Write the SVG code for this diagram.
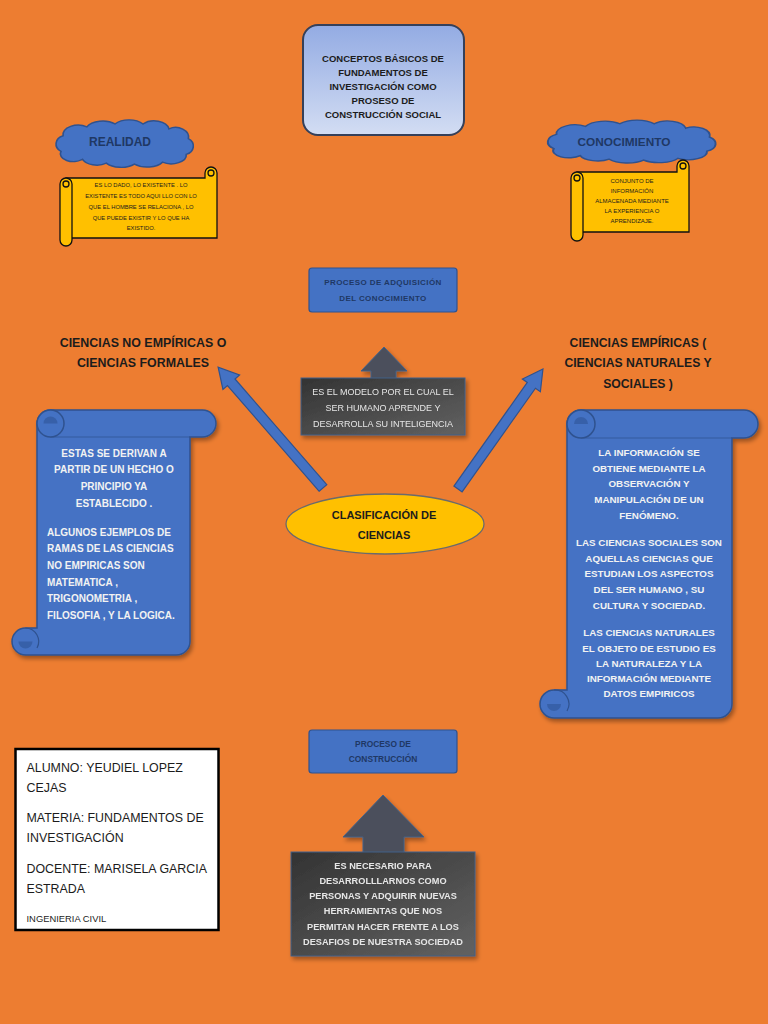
<svg xmlns="http://www.w3.org/2000/svg" width="768" height="1024" viewBox="0 0 768 1024">
<defs>
<linearGradient id="gTop" x1="0" y1="0" x2="0" y2="1">
<stop offset="0" stop-color="#93ABE3"/><stop offset="1" stop-color="#D3DDF3"/>
</linearGradient>
<linearGradient id="gDark" x1="0" y1="0" x2="1" y2="1">
<stop offset="0" stop-color="#333333"/><stop offset="1" stop-color="#626262"/>
</linearGradient>
<filter id="sh" x="-10%" y="-10%" width="125%" height="125%">
<feDropShadow dx="2" dy="3" stdDeviation="2" flood-color="#000" flood-opacity="0.35"/>
</filter>
<path id="cloud" d="M12,30 a10,9 0 0 1 2,-16 a14,10 0 0 1 22,-9 a16,10 0 0 1 26,-3 a16,10 0 0 1 26,0 a14,10 0 0 1 24,5 a12,10 0 0 1 18,10 a10,9 0 0 1 -2,16 a14,9 0 0 1 -22,8 a16,9 0 0 1 -26,2 a16,9 0 0 1 -26,-1 a14,9 0 0 1 -22,-4 a12,8 0 0 1 -20,-8 Z"/>
</defs>
<style>
text{font-family:"Liberation Sans",Arial,sans-serif;}
.b{font-weight:bold;}
.cloud{fill:#4472C4;stroke:#2F528F;stroke-width:1.5;}
.yel{fill:#FFC000;stroke:#111;stroke-width:1.3;}
.blu{fill:#4472C4;stroke:#2F528F;stroke-width:1.5;}
.seam{fill:none;stroke:#2F528F;stroke-width:1.2;}
.blud{fill:#2F5597;stroke:none;}
.proc{fill:#4472C4;stroke:#2F528F;stroke-width:1.2;}
.dark{fill:url(#gDark);stroke:#41618A;stroke-width:1;}
.head{fill:#4B505B;stroke:#41618A;stroke-width:1;}
.arr{fill:#4472C4;stroke:#2F528F;stroke-width:1.2;}
.navy{fill:#1F3864;}
.blk{fill:#1C1C1C;}
.wt{fill:#F2F2F2;}
.lt{fill:#E6E6E6;}
</style>
<rect width="768" height="1024" fill="#ED7D31"/>

<g id="title">
<rect x="303" y="25" width="161" height="110" rx="15" fill="url(#gTop)" stroke="#35405A" stroke-width="2"/>
<g class="b blk" font-size="9.5" text-anchor="middle">
<text x="383" y="61.5">CONCEPTOS BÁSICOS DE</text>
<text x="383" y="75.5">FUNDAMENTOS DE</text>
<text x="383" y="89.5">INVESTIGACIÓN COMO</text>
<text x="383" y="103.5">PROSESO DE</text>
<text x="383" y="117.5">CONSTRUCCIÓN SOCIAL</text>
</g>
</g>

<g id="realidad">
<use href="#cloud" class="cloud" vector-effect="non-scaling-stroke" transform="translate(48,122) scale(1.08,0.98)"/>
<text x="120" y="145.5" class="b navy" font-size="12" text-anchor="middle">REALIDAD</text>
</g>

<g id="realidad-def">
<path class="yel" d="M66,178 H205 V173 A6,6 0 0 1 217,173 V238 H66 Z"/>
<circle class="yel" cx="211" cy="173" r="3"/>
<path class="yel" d="M60,184 A6,6 0 0 1 72,184 V240 A6,6 0 0 1 60,240 Z"/>
<circle class="yel" cx="66" cy="184" r="3"/>
<g class="blk" font-size="5.8" text-anchor="middle">
<text x="141" y="187">ES LO DADO, LO EXISTENTE . LO</text>
<text x="141" y="198">EXISTENTE ES TODO AQUI LLO CON LO</text>
<text x="141" y="209">QUE EL HOMBRE SE RELACIONA , LO</text>
<text x="141" y="220">QUE PUEDE EXISTIR Y LO QUE HA</text>
<text x="141" y="230">EXISTIDO.</text>
</g>
</g>

<g id="conocimiento">
<use href="#cloud" class="cloud" vector-effect="non-scaling-stroke" transform="translate(538,122) scale(1.32,0.886)"/>
<text x="624" y="145.5" class="b navy" font-size="11.8" text-anchor="middle">CONOCIMIENTO</text>
</g>

<g id="conocimiento-def">
<path class="yel" d="M577,172 H677 V166 A6,6 0 0 1 689,166 V232 H577 Z"/>
<circle class="yel" cx="683" cy="166" r="3"/>
<path class="yel" d="M571,178 A6,6 0 0 1 583,178 V235 A6,6 0 0 1 571,235 Z"/>
<circle class="yel" cx="577" cy="178" r="3"/>
<g class="blk" font-size="6" text-anchor="middle">
<text x="632" y="183">CONJUNTO DE</text>
<text x="632" y="193">INFORMACIÓN</text>
<text x="632" y="203">ALMACENADA MEDIANTE</text>
<text x="632" y="213">LA EXPERIENCIA O</text>
<text x="632" y="223">APRENDIZAJE.</text>
</g>
</g>

<g id="proceso-adquisicion">
<rect class="proc" x="309" y="268" width="148" height="44" rx="3"/>
<g class="b navy" font-size="8" letter-spacing="0.4" text-anchor="middle">
<text x="383" y="284.5">PROCESO DE ADQUISICIÓN</text>
<text x="383" y="301">DEL CONOCIMIENTO</text>
</g>
</g>

<g id="modelo" filter="url(#sh)">
<polygon class="head" points="384,347 407,371 396,371 396,379 371,379 371,371 361,371"/>
<rect class="dark" x="301" y="378" width="164" height="57"/>
<g class="lt" font-size="9" text-anchor="middle">
<text x="383" y="395">ES EL MODELO POR EL CUAL EL</text>
<text x="383" y="411">SER HUMANO APRENDE Y</text>
<text x="383" y="427">DESARROLLA SU INTELIGENCIA</text>
</g>
</g>

<g id="no-empiricas">
<g class="b blk" font-size="12.4" text-anchor="middle">
<text x="143" y="347">CIENCIAS NO EMPÍRICAS O</text>
<text x="143" y="367">CIENCIAS FORMALES</text>
</g>
</g>

<g id="empiricas">
<g class="b blk" font-size="12.2" text-anchor="middle">
<text x="638" y="347">CIENCIAS EMPÍRICAS (</text>
<text x="638" y="367">CIENCIAS NATURALES Y</text>
<text x="638" y="388">SOCIALES )</text>
</g>
</g>

<g id="connectors">
<polygon class="arr" transform="translate(323,488) rotate(-130.95)" points="0,-5 140,-5 140,-11 160,0 140,11 140,5 0,5"/>
<polygon class="arr" transform="translate(458,489) rotate(-54.7)" points="0,-5 127,-5 127,-11 147,0 127,11 127,5 0,5"/>
</g>

<g id="clasificacion">
<ellipse cx="385" cy="524" rx="99" ry="30" fill="#FFC000" stroke="#6B6B6B" stroke-width="1.3"/>
<g class="b blk" font-size="11" text-anchor="middle">
<text x="384" y="518.5">CLASIFICACIÓN DE</text>
<text x="384" y="538.5">CIENCIAS</text>
</g>
</g>

<g id="no-empiricas-def">
<path class="blu" filter="url(#sh)" d="M50.5,410 H202.5 A13.5,13.5 0 0 1 202.5,437 H190 V641.5 A13.5,13.5 0 0 1 176.5,655 H25.5 A13.5,13.5 0 0 1 25.5,628 H37 V423.5 A13.5,13.5 0 0 1 50.5,410 Z"/>
<path class="seam" d="M50.5,437 H190" opacity="0.7"/>
<circle class="blu" cx="50.5" cy="423.5" r="13.5"/>
<path class="blud" d="M43.5,423.5 a7,7 0 0 1 14,0 Z" opacity="0.6"/>
<path class="seam" d="M25.5,628 A13.5,13.5 0 0 1 37,648"/>
<path class="blud" d="M18.5,641.5 a7,7 0 0 0 14,0 Z" opacity="0.6"/>
<g class="b wt" font-size="10">
<g text-anchor="middle">
<text x="114" y="457">ESTAS SE DERIVAN A</text>
<text x="114" y="473">PARTIR DE UN HECHO O</text>
<text x="114" y="490">PRINCIPIO YA</text>
<text x="114" y="507">ESTABLECIDO .</text>
</g>
<text x="47" y="536">ALGUNOS EJEMPLOS DE</text>
<text x="47" y="552">RAMAS DE LAS CIENCIAS</text>
<text x="47" y="569">NO EMPIRICAS SON</text>
<text x="47" y="586">MATEMATICA ,</text>
<text x="47" y="602">TRIGONOMETRIA ,</text>
<text x="47" y="619">FILOSOFIA , Y LA LOGICA.</text>
</g>
</g>

<g id="empiricas-def">
<path class="blu" filter="url(#sh)" d="M581,410 H744 A14,14 0 0 1 744,438 H732 V704 A14,14 0 0 1 718,718 H554 A14,14 0 0 1 554,690 H567 V424 A14,14 0 0 1 581,410 Z"/>
<path class="seam" d="M581,438 H732" opacity="0.7"/>
<circle class="blu" cx="581" cy="424" r="14"/>
<path class="blud" d="M574,424 a7,7 0 0 1 14,0 Z" opacity="0.6"/>
<path class="seam" d="M554,690 A14,14 0 0 1 567,711"/>
<path class="blud" d="M547,704 a7,7 0 0 0 14,0 Z" opacity="0.6"/>
<g class="b wt" font-size="9.8" text-anchor="middle">
<text x="649" y="456">LA INFORMACIÓN SE</text>
<text x="649" y="472">OBTIENE MEDIANTE LA</text>
<text x="649" y="487">OBSERVACIÓN Y</text>
<text x="649" y="503">MANIPULACIÓN DE  UN</text>
<text x="649" y="519">FENÓMENO.</text>
<text x="649" y="546">LAS CIENCIAS SOCIALES SON</text>
<text x="649" y="562">AQUELLAS CIENCIAS QUE</text>
<text x="649" y="577">ESTUDIAN LOS ASPECTOS</text>
<text x="649" y="593">DEL SER HUMANO , SU</text>
<text x="649" y="609">CULTURA Y SOCIEDAD.</text>
<text x="649" y="636">LAS CIENCIAS NATURALES</text>
<text x="649" y="652">EL OBJETO DE ESTUDIO ES</text>
<text x="649" y="667">LA NATURALEZA Y LA</text>
<text x="649" y="682">INFORMACIÓN MEDIANTE</text>
<text x="649" y="697">DATOS EMPIRICOS</text>
</g>
</g>

<g id="proceso-construccion">
<rect class="proc" x="309" y="730" width="148" height="43" rx="3"/>
<g class="b navy" font-size="8.4" text-anchor="middle">
<text x="383" y="747">PROCESO DE</text>
<text x="383" y="762">CONSTRUCCIÓN</text>
</g>
</g>

<g id="necesario" filter="url(#sh)">
<polygon class="head" points="383,795 424,837 404,837 404,853 363,853 363,837 343,837"/>
<rect class="dark" x="291" y="852" width="184" height="104"/>
<g class="b lt" font-size="9.2" text-anchor="middle">
<text x="383" y="869">ES NECESARIO PARA</text>
<text x="383" y="884">DESARROLLLARNOS COMO</text>
<text x="383" y="899">PERSONAS Y ADQUIRIR NUEVAS</text>
<text x="383" y="914">HERRAMIENTAS QUE NOS</text>
<text x="383" y="930">PERMITAN HACER FRENTE A LOS</text>
<text x="383" y="945">DESAFIOS DE NUESTRA SOCIEDAD</text>
</g>
</g>

<g id="datos">
<rect x="15.5" y="749" width="203" height="181" fill="#FFFFFF" stroke="#000" stroke-width="2.5"/>
<g class="blk" font-size="12.4">
<text x="26.5" y="771.5">ALUMNO: YEUDIEL LOPEZ</text>
<text x="26.5" y="791.5">CEJAS</text>
<text x="26.5" y="821.5">MATERIA: FUNDAMENTOS DE</text>
<text x="26.5" y="841.5">INVESTIGACIÓN</text>
<text x="26.5" y="873">DOCENTE: MARISELA GARCIA</text>
<text x="26.5" y="893">ESTRADA</text>
<text x="26.5" y="921.5" font-size="9.4">INGENIERIA CIVIL</text>
</g>
</g>
</svg>
